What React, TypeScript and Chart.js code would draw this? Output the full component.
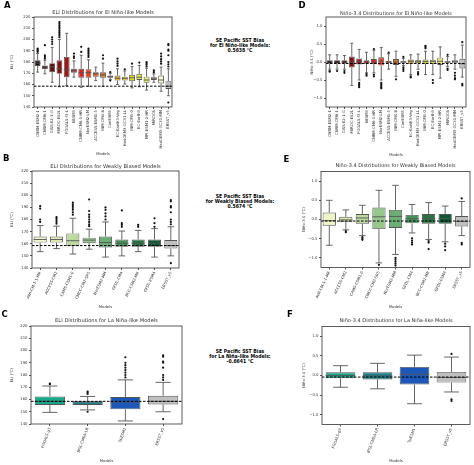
import React, { useEffect, useRef } from 'react';
import { Chart, registerables } from 'chart.js';

Chart.register(...registerables);

const FONT = "'DejaVu Sans', sans-serif";
const LINE = '#555555';
const TEXT = '#333333';

// ---------- categories ----------
const elNinoModels = ['CNRM-ESM2-1', 'CNRM-CM6-1', 'GISS-E2-1-G', 'MIROC-ES2L', 'FGOALS-f3-L', 'NESM3', 'CNRM-CM6-1-HR', 'NorESM2-LM', 'ACCESS-ESM1-5', 'INM-CM4-8', 'CanESM5', 'EC-Earth3-Veg', 'HadGEM3-GC31-LL', 'INM-CM5-0', 'EC-Earth3', 'MPI-ESM1-2-HR', 'MIROC6', 'HadGEM3-GC31-MM', 'ERSST_v5'];
const weakModels = ['AWI-CM-1-1-MR', 'ACCESS-CM2', 'CAMS-CSM1-0', 'CMCC-CM2-SR5', 'NorESM2-MM', 'GFDL-CM4', 'BCC-CSM2-MR', 'GFDL-ESM4', 'ERSST_v5'];
const laNinaModels = ['FGOALS-g3', 'IPSL-CM6A-LR', 'TaiESM1', 'ERSST_v5'];

// ---------- box statistics: [min whisker, q1, median, q3, max whisker] ----------
const ersstEliStats = [150, 156, 158.5, 163, 174];
const ersstEliOutliers = [144, 176, 178, 180, 186, 190, 191, 195, 196];
const ersstNinoStats = [-0.42, -0.18, -0.05, 0.09, 0.47];
const ersstNinoOutliers = [0.55, -0.61, -0.65];

const elNinoEliStats = [
  [171, 176.5, 179, 181.5, 187.5], [169.5, 173.5, 175.5, 177, 181.5], [162, 171, 175.5, 179, 193],
  [158, 169.5, 174, 181.5, 200], [159, 166.5, 173, 184.5, 205.5], [166.5, 170.5, 172.5, 174, 181],
  [157.5, 166, 170.5, 174, 186], [158.5, 166, 170.5, 173.5, 182], [163.5, 167, 169.5, 171, 175.5],
  [158.5, 166, 168.5, 171, 179], [164.5, 166, 167, 168, 170], [160, 163.5, 165.5, 168, 174],
  [160.5, 163.5, 165.5, 167, 172], [157, 163, 166, 168.5, 176], [158, 164, 166.5, 169.5, 177],
  [155, 161.5, 164, 167, 174.5], [162, 164, 165.5, 166.5, 169.5], [154, 161, 164, 168, 175.5],
  ersstEliStats,
];
const elNinoEliOutliers = [
  [189, 190, 191, 192], [183, 184.5, 186, 195], [196, 198, 200, 202],
  [202, 203.5, 205, 206.5, 208, 209.5, 211, 212.5, 214, 215.5], [], [183.5, 185, 187.5],
  [189, 193.5], [184.5, 186, 187.5, 189, 190.5, 192], [],
  [183, 186], [163.5, 171], [176.5, 178.5, 180.5, 183],
  [173.5], [178.5], [179.5],
  [176, 177.5, 179, 180], [171, 172.5], [178.5, 180.5, 182.5, 185, 187.5],
  ersstEliOutliers,
];
const elNinoNinoStats = [
  [-0.2, -0.05, 0, 0.05, 0.2], [-0.2, -0.05, 0, 0.05, 0.2], [-0.2, -0.05, 0, 0.05, 0.18],
  [-0.65, -0.15, 0, 0.15, 0.52], [-0.5, -0.07, 0.02, 0.1, 0.35], [-0.3, -0.05, 0, 0.05, 0.27],
  [-0.3, -0.06, 0, 0.08, 0.33], [-0.5, -0.1, 0.03, 0.13, 0.4], [-0.2, -0.03, 0, 0.03, 0.23],
  [-0.4, -0.08, 0, 0.08, 0.3], [-0.1, -0.02, 0, 0.02, 0.1], [-0.35, -0.05, 0.02, 0.07, 0.2],
  [-0.2, -0.03, 0.02, 0.05, 0.22], [-0.35, -0.06, 0.01, 0.07, 0.3], [-0.35, -0.05, 0.01, 0.06, 0.3],
  [-0.45, -0.08, 0.02, 0.12, 0.42], [-0.12, -0.02, 0, 0.02, 0.15], [-0.2, -0.02, 0.01, 0.05, 0.2],
  ersstNinoStats,
];
const elNinoNinoOutliers = [
  [-0.25, -0.27], [-0.25], [-0.25, -0.3],
  [], [-0.58, -0.62, -0.66, -0.7], [-0.33, -0.38],
  [0.36, -0.35, -0.4], [-0.58, -0.62, -0.66, -0.7, -0.73], [0.26],
  [-0.48], [-0.15, -0.2, -0.25, 0.14], [-0.4, -0.43],
  [-0.28, -0.32, -0.35], [0.38, 0.42, 0.45], [-0.5, -0.58],
  [], [-0.18, -0.22, 0.2], [-0.3, -0.38, -0.45, -0.48],
  ersstNinoOutliers,
];

const weakEliStats = [
  [153.5, 161, 163.5, 166, 175], [156, 161, 163.5, 166, 174.5], [151.5, 158, 162.5, 168.5, 181],
  [155.5, 160.5, 163, 165, 172], [149, 157, 161, 166, 178], [150, 157.5, 160.5, 163.5, 170.5],
  [153.5, 157.5, 160.5, 163.5, 171], [149, 157.5, 160.5, 163.5, 172.5], ersstEliStats,
];
const weakEliOutliers = [
  [178, 180, 189, 191], [176.5, 178, 179.5, 181, 182], [184, 186, 188, 189.5, 191, 192.5, 194],
  [174.5, 176, 178, 180, 182, 184, 187, 196.5], [180, 182.5, 185, 188, 190], [174, 175.5, 177, 187.5],
  [174, 175.5], [174, 177, 181], ersstEliOutliers,
];
const weakNinoStats = [
  [-0.67, -0.16, -0.03, 0.18, 0.5], [-0.27, -0.07, -0.01, 0.07, 0.25], [-0.42, -0.11, 0.04, 0.14, 0.37],
  [-1.13, -0.25, 0.07, 0.31, 0.76], [-0.91, -0.22, 0.08, 0.25, 0.89], [-0.35, -0.1, 0.02, 0.12, 0.39],
  [-0.52, -0.11, 0.02, 0.14, 0.44], [-0.58, -0.11, 0.03, 0.14, 0.35], ersstNinoStats,
];
const weakNinoOutliers = [
  [], [-0.3, -0.33], [-0.46, -0.5, -0.53],
  [-1.18], [-1.0, -1.05, -1.1, -1.15, -1.2], [-0.49, -0.55, -0.6, -0.65],
  [-0.56, -0.6, -0.77], [-0.63, -0.7, -0.8], ersstNinoOutliers,
];

const laNinaEliStats = [
  [149.5, 155.5, 158.5, 162.5, 171], [151.5, 155.5, 158, 158.5, 162.5], [142.5, 152, 158, 162, 176], ersstEliStats,
];
const laNinaEliOutliers = [
  [172.5, 173], [150, 164.5, 165.5, 166.5], [178, 180, 182, 184, 186, 188, 190, 194.5], ersstEliOutliers,
];
const laNinaNinoStats = [
  [-0.3, -0.07, 0.0, 0.08, 0.25], [-0.34, -0.1, -0.01, 0.08, 0.31], [-0.72, -0.23, 0.03, 0.22, 0.52], ersstNinoStats,
];
const laNinaNinoOutliers = [[], [], [], ersstNinoOutliers];

// ---------- axes ----------
const eliTicks = [140, 150, 160, 170, 180, 190, 200, 210, 220];
const ninoTicks = [-1.0, -0.5, 0.0, 0.5, 1.0];
const eliRef = 158.5;
const ninoRef = -0.04;

// ---------- annotation texts ----------
const biasGroups = ['El Niño-like Models', 'Weakly Biased Models', 'La Niña-like Models'];
const biasValues = ['0.5638', '0.5674', '-0.6641'];

// ---------- colours ----------
const elNinoColors = ['#200505', '#400909', '#610e0e', '#811212', '#a11717', '#c11c1c', '#df2220', '#df3c20', '#df5720', '#df7120', '#df8b20', '#dfa620', '#dfc020', '#dfdb20', '#e5e546', '#ebeb74', '#f2f2a3', '#f8f8d0', '#bfbfbf'];
const weakColors = ['#f1f4c6', '#dbeab1', '#bcd99f', '#96c68c', '#6baf75', '#44915a', '#277243', '#0d5834', '#bfbfbf'];
const laNinaColors = ['#1aa88a', '#1b7f8c', '#1d58b8', '#bfbfbf'];

const boxPlugin = {
  id: 'boxExtras',
  afterDatasetsDraw(chart: any, _args: any, opts: any) {
    const { ctx, chartArea, scales } = chart;
    const y = scales.y;
    const meta = chart.getDatasetMeta(0);
    const stats: number[][] = opts.stats;
    ctx.save();
    ctx.strokeStyle = LINE;
    ctx.lineWidth = 0.9;
    const seg = (x1: number, y1: number, x2: number, y2: number) => {
      ctx.beginPath();
      ctx.moveTo(x1, y1);
      ctx.lineTo(x2, y2);
      ctx.stroke();
    };
    stats.forEach((s, i) => {
      const bar = meta.data[i];
      if (!bar) return;
      const cx = bar.x;
      const hw = bar.width / 2;
      const [mn, q1, md, q3, mx] = s.map((v) => y.getPixelForValue(v));
      seg(cx, q3, cx, mx);
      seg(cx, q1, cx, mn);
      seg(cx - hw / 2, mx, cx + hw / 2, mx);
      seg(cx - hw / 2, mn, cx + hw / 2, mn);
      seg(cx - hw, md, cx + hw, md);
    });
    // reference dashed line
    const ry = y.getPixelForValue(opts.ref);
    ctx.strokeStyle = '#000';
    ctx.lineWidth = 1;
    ctx.setLineDash([2.5, 1.5]);
    seg(chartArea.left, ry, chartArea.right, ry);
    ctx.setLineDash([]);
    // frame
    ctx.strokeStyle = '#333';
    ctx.lineWidth = 0.8;
    ctx.strokeRect(chartArea.left, chartArea.top, chartArea.right - chartArea.left, chartArea.bottom - chartArea.top);
    ctx.restore();
  },
};

type PanelProps = {
  models: string[];
  stats: number[][];
  outliers: number[][];
  colors: string[];
  ticks: number[];
  min: number;
  max: number;
  decimals: number;
  refValue: number;
  title: string;
  yTitle: string;
  rotation: number;
  titleSize: number;
  canvas: [number, number, number, number]; // left, top, width, height
  area: [number, number, number, number]; // left, top, right, bottom (page coords)
  titleY: number;
  xTitleY: number;
  yTitleX: number;
};

function fmt(v: number, d: number) {
  const s = Math.abs(v).toFixed(d);
  return v < -1e-9 ? '\u2212' + s : s;
}

function Panel(p: PanelProps) {
  const ref = useRef<HTMLCanvasElement>(null);
  useEffect(() => {
    const [cl, ct, cw, ch] = p.canvas;
    const [al, at, ar, ab] = p.area;
    const yWidth = al - cl;
    const padRight = cl + cw - ar;
    const titleTop = p.titleY - ct - p.titleSize / 2;
    const titleBottom = at - ct - p.titleSize - titleTop;
    const xHeight = ct + ch - ab;
    const axisFont = 3.8;
    const xTitlePb = ct + ch - p.xTitleY - (axisFont * 1.2) / 2;
    const yTitlePt = p.yTitleX - cl - (axisFont * 1.2) / 2;
    const outlierPts: { x: string; y: number }[] = [];
    p.outliers.forEach((arr, i) => arr.forEach((v) => outlierPts.push({ x: p.models[i], y: v })));
    const gridCfg = { display: true, drawOnChartArea: false, drawTicks: true, tickLength: 2, color: LINE, offset: false };
    const chart = new Chart(ref.current as HTMLCanvasElement, {
      type: 'bar',
      data: {
        labels: p.models,
        datasets: [
          {
            type: 'bar',
            data: p.stats.map((s) => [s[1], s[3]]),
            backgroundColor: p.colors,
            borderColor: LINE,
            borderWidth: 0.9,
            borderSkipped: false,
            barPercentage: 0.8,
            categoryPercentage: 1,
          } as any,
          {
            type: 'scatter',
            data: outlierPts,
            pointRadius: 1.1,
            pointBackgroundColor: '#111',
            pointBorderWidth: 0,
            showLine: false,
          } as any,
        ],
      },
      options: {
        animation: false,
        responsive: false,
        maintainAspectRatio: false,
        events: [],
        layout: { padding: { left: 0, right: padRight, top: 0, bottom: 0 } },
        plugins: {
          legend: { display: false },
          tooltip: { enabled: false },
          title: {
            display: true,
            text: p.title,
            fullSize: false,
            color: TEXT,
            font: { family: FONT, size: p.titleSize, weight: 'normal', lineHeight: 1 },
            padding: { top: titleTop, bottom: titleBottom },
          },
          boxExtras: { stats: p.stats, ref: p.refValue },
        } as any,
        scales: {
          x: {
            type: 'category',
            offset: true,
            grid: gridCfg,
            border: { display: false },
            ticks: {
              autoSkip: false,
              minRotation: p.rotation,
              maxRotation: p.rotation,
              padding: 1,
              color: TEXT,
              font: { family: FONT, size: axisFont },
            },
            title: {
              display: true,
              text: 'Models',
              color: TEXT,
              font: { family: FONT, size: axisFont, lineHeight: 1.2 },
              padding: { top: 0, bottom: xTitlePb },
            },
            afterFit: (s: any) => {
              s.height = xHeight;
            },
          } as any,
          y: {
            type: 'linear',
            min: p.min,
            max: p.max,
            grid: gridCfg,
            border: { display: false },
            afterBuildTicks: (s: any) => {
              s.ticks = p.ticks.map((v) => ({ value: v }));
            },
            ticks: {
              color: TEXT,
              padding: 1.5,
              font: { family: FONT, size: axisFont },
              callback: (v: any) => fmt(Number(v), p.decimals),
            },
            title: {
              display: true,
              text: p.yTitle,
              color: TEXT,
              font: { family: FONT, size: axisFont, lineHeight: 1.2 },
              padding: { top: yTitlePt, bottom: 0 },
            },
            afterFit: (s: any) => {
              s.width = yWidth;
            },
          } as any,
        },
      },
      plugins: [boxPlugin as any],
    });
    return () => chart.destroy();
  }, []);
  const [cl, ct, cw, ch] = p.canvas;
  return (
    <canvas
      ref={ref}
      width={cw}
      height={ch}
      style={{ position: 'absolute', left: cl, top: ct, width: cw, height: ch }}
    />
  );
}

function Letter({ text, left, top }: { text: string; left: number; top: number }) {
  return (
    <div style={{ position: 'absolute', left, top, fontFamily: FONT, fontWeight: 'bold', fontSize: '8.5px', lineHeight: '10px', color: '#000' }}>
      {text}
    </div>
  );
}

function BiasText({ group, value, top }: { group: string; value: string; top: number }) {
  return (
    <div
      style={{
        position: 'absolute',
        left: 140,
        top,
        width: 200,
        textAlign: 'center',
        fontFamily: FONT,
        fontWeight: 'bold',
        fontSize: '9.2px',
        lineHeight: '9.4px',
        color: '#000',
        transform: 'scale(0.5)',
        transformOrigin: '50% 0',
        whiteSpace: 'nowrap',
      }}
    >
      <div>SE Pacific SST Bias</div>
      <div>for {group}:</div>
      <div>{value} °C</div>
    </div>
  );
}

export default function App() {
  return (
    <div style={{ position: 'absolute', left: 0, top: 0, width: 474, height: 465, background: '#fff', overflow: 'hidden' }}>
      <Panel
        models={elNinoModels} stats={elNinoEliStats} outliers={elNinoEliOutliers} colors={elNinoColors}
        ticks={eliTicks} min={140} max={220} decimals={0} refValue={eliRef}
        title="ELI Distributions for El Niño-like Models" yTitle="ELI (°C)" rotation={90} titleSize={5.2}
        canvas={[0, 0, 180, 160]} area={[34, 17, 172, 107]} titleY={12.7} xTitleY={154.5} yTitleX={11.7}
      />
      <Panel
        models={elNinoModels} stats={elNinoNinoStats} outliers={elNinoNinoOutliers} colors={elNinoColors}
        ticks={ninoTicks} min={-1.25} max={1.25} decimals={1} refValue={ninoRef}
        title="Niño-3.4 Distributions for El Niño-like Models" yTitle="Niño-3.4 (°C)" rotation={90} titleSize={5}
        canvas={[296, 0, 178, 160]} area={[326, 17, 466, 107]} titleY={13.5} xTitleY={155} yTitleX={311.7}
      />
      <Panel
        models={weakModels} stats={weakEliStats} outliers={weakEliOutliers} colors={weakColors}
        ticks={eliTicks} min={140} max={220} decimals={0} refValue={eliRef}
        title="ELI Distributions for Weakly Biased Models" yTitle="ELI (°C)" rotation={65} titleSize={5.2}
        canvas={[0, 150, 186, 162]} area={[32, 171, 179, 268]} titleY={166.7} xTitleY={307.5} yTitleX={11.7}
      />
      <Panel
        models={weakModels} stats={weakNinoStats} outliers={weakNinoOutliers} colors={weakColors}
        ticks={ninoTicks} min={-1.25} max={1.25} decimals={1} refValue={ninoRef}
        title="Niño-3.4 Distributions for Weakly Biased Models" yTitle="Niño-3.4 (°C)" rotation={65} titleSize={5}
        canvas={[292, 150, 182, 162]} area={[321, 171.5, 471, 267.5]} titleY={166} xTitleY={307} yTitleX={303.7}
      />
      <Panel
        models={laNinaModels} stats={laNinaEliStats} outliers={laNinaEliOutliers} colors={laNinaColors}
        ticks={eliTicks} min={140} max={220} decimals={0} refValue={eliRef}
        title="ELI Distributions for La Niña-like Models" yTitle="ELI (°C)" rotation={70} titleSize={5.2}
        canvas={[0, 305, 188, 160]} area={[31, 326, 182, 424]} titleY={320.7} xTitleY={461} yTitleX={11.7}
      />
      <Panel
        models={laNinaModels} stats={laNinaNinoStats} outliers={laNinaNinoOutliers} colors={laNinaColors}
        ticks={ninoTicks} min={-1.25} max={1.25} decimals={1} refValue={ninoRef}
        title="Niño-3.4 Distributions for La Niña-like Models" yTitle="Niño-3.4 (°C)" rotation={70} titleSize={5}
        canvas={[292, 305, 182, 160]} area={[322, 326.5, 471, 424.5]} titleY={320.7} xTitleY={461} yTitleX={303.7}
      />
      <BiasText group={biasGroups[0]} value={biasValues[0]} top={37.6} />
      <BiasText group={biasGroups[1]} value={biasValues[1]} top={194.3} />
      <BiasText group={biasGroups[2]} value={biasValues[2]} top={349.3} />
      <Letter text="A" left={4} top={0} />
      <Letter text="D" left={298.5} top={0} />
      <Letter text="B" left={3} top={153} />
      <Letter text="E" left={283.5} top={153.5} />
      <Letter text="C" left={1.5} top={308.5} />
      <Letter text="F" left={287} top={308.5} />
    </div>
  );
}
